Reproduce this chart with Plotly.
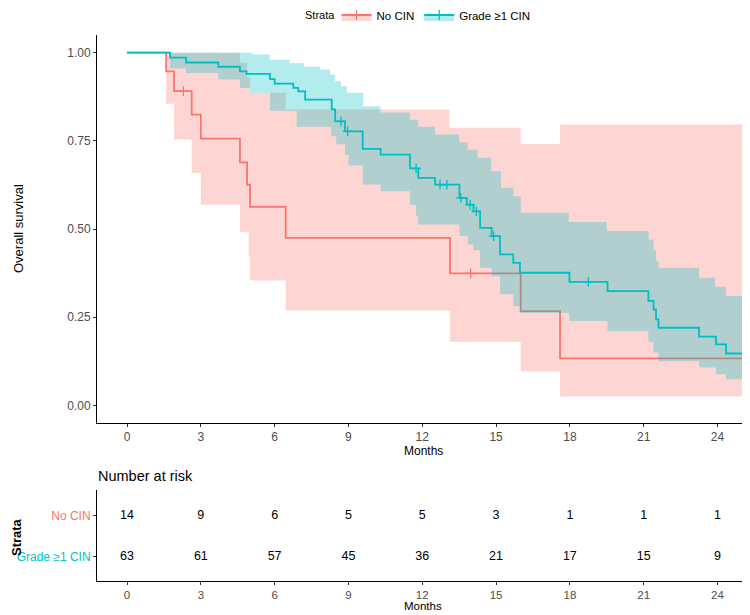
import plotly.graph_objects as go

RED = "#F8766D"
CYAN = "#00BFC4"
RED_FILL = "rgba(248,118,109,0.3)"
CYAN_FILL = "rgba(0,191,196,0.3)"
FONT = "Liberation Sans, Arial, sans-serif"

W, H = 750, 615
PAGE_OFFSET = 8  # default body margin of the html page

# ---- No CIN ----
nocin_time = [0, 1.59, 1.91, 2.63, 3.0, 4.59, 4.88, 5.0, 6.45, 13.13, 16.0, 17.6, 25.4]
nocin_surv = [1.0, 0.947, 0.891, 0.824, 0.756, 0.689, 0.626, 0.563, 0.475, 0.374, 0.267, 0.133, 0.133]
nocin_cens_time = [2.29, 13.97]
nocin_cens_surv = [0.891, 0.374]
nocin_up_time = [1.59, 4.59, 4.88, 5.0, 6.45, 13.1, 16.0, 17.6, 25.4]
nocin_upper = [1.0, 0.971, 0.93, 0.886, 0.839, 0.787, 0.741, 0.796, 0.796]
nocin_lo_time = [1.59, 1.91, 2.63, 3.0, 4.59, 4.95, 5.0, 6.45, 13.13, 16.0, 17.6, 25.4]
nocin_lower = [0.855, 0.754, 0.659, 0.569, 0.491, 0.421, 0.354, 0.269, 0.18, 0.097, 0.025, 0.025]

# ---- Grade >=1 CIN ----
grade_time = [0, 1.75, 2.4, 3.71, 4.59, 4.86, 5.81, 6.0, 6.76, 6.96, 7.24, 8.32, 8.46, 8.86,
              9.58, 10.31, 11.5, 11.84, 12.52, 13.51, 13.81, 14.08, 14.35, 14.82, 15.16, 15.7,
              15.97, 17.98, 19.53, 21.19, 21.4, 21.5, 21.6, 23.25, 23.94, 24.35, 25.4]
grade_surv = [1.0, 0.986, 0.972, 0.96, 0.947, 0.94, 0.925, 0.912, 0.90, 0.89, 0.867, 0.839, 0.805,
              0.777, 0.727, 0.711, 0.672, 0.645, 0.626, 0.588, 0.569, 0.55, 0.503, 0.48, 0.428,
              0.404, 0.376, 0.35, 0.324, 0.296, 0.272, 0.244, 0.22, 0.195, 0.173, 0.147, 0.147]
grade_cens_time = [8.7, 8.97, 11.75, 12.72, 13.0, 13.57, 13.95, 14.2, 14.9, 18.75]
grade_cens_surv = [0.805, 0.777, 0.672, 0.626, 0.626, 0.588, 0.569, 0.55, 0.48, 0.35]
grade_up_time = [1.75, 5.1, 5.8, 6.6, 7.2, 7.85, 8.25, 8.46, 8.69, 8.93, 9.6, 10.3, 11.5, 11.84,
                 12.52, 13.5, 13.85, 14.25, 14.8, 15.2, 15.7, 16.0, 17.95, 19.5, 21.2, 21.4, 21.5,
                 21.6, 23.25, 23.9, 24.35, 25.4]
grade_upper = [1.0, 0.995, 0.98, 0.97, 0.96, 0.952, 0.938, 0.919, 0.905, 0.886, 0.848, 0.83, 0.81,
               0.79, 0.768, 0.745, 0.725, 0.702, 0.664, 0.617, 0.593, 0.546, 0.52, 0.494, 0.47,
               0.44, 0.41, 0.39, 0.362, 0.336, 0.31, 0.31]
grade_lo_time = [1.75, 2.4, 3.71, 4.59, 5.0, 5.81, 6.9, 8.3, 8.5, 8.86, 9.0, 9.58, 10.31, 11.5,
                 11.75, 11.84, 13.51, 13.85, 14.08, 14.35, 14.82, 15.16, 15.7, 15.97, 17.98, 19.53,
                 21.19, 21.4, 21.6, 23.25, 23.94, 24.35, 25.4]
grade_lower = [0.955, 0.942, 0.924, 0.90, 0.886, 0.835, 0.79, 0.763, 0.74, 0.71, 0.68, 0.626,
               0.607, 0.569, 0.536, 0.513, 0.48, 0.456, 0.44, 0.39, 0.366, 0.315, 0.281, 0.262,
               0.239, 0.21, 0.18, 0.15, 0.125, 0.107, 0.088, 0.074, 0.074]

# ---- risk table ----
risk_time = [0, 3, 6, 9, 12, 15, 18, 21, 24]
risk_nocin = [14, 9, 6, 5, 5, 3, 1, 1, 1]
risk_grade = [63, 61, 57, 45, 36, 21, 17, 15, 9]
strata = ["No CIN", "Grade ≥1 CIN"]


def px_x(p):
    return (p - PAGE_OFFSET) / W


def px_y(p):
    return 1 - (p - PAGE_OFFSET) / H


fig = go.Figure()


def add_group(name, color, fill, t, s, ut, u, lt, lo, ct, cs):
    fig.add_trace(go.Scatter(x=ut, y=u, mode="lines", line=dict(width=0, shape="hv"),
                             hoverinfo="skip", showlegend=False))
    fig.add_trace(go.Scatter(x=lt, y=lo, mode="lines", line=dict(width=0, shape="hv"),
                             fill="tonexty", fillcolor=fill, hoverinfo="skip", showlegend=False))
    fig.add_trace(go.Scatter(x=t, y=s, mode="lines", line=dict(color=color, width=1.8, shape="hv"),
                             name=name, showlegend=False))
    fig.add_trace(go.Scatter(x=ct, y=cs, mode="markers",
                             marker=dict(symbol="cross-thin", size=7, line=dict(color=color, width=1.3)),
                             showlegend=False, hoverinfo="skip"))
    # legend key
    fig.add_trace(go.Scatter(x=[None], y=[None], mode="lines+markers", name=name,
                             line=dict(color=color, width=1.8), fill="toself", fillcolor=fill,
                             marker=dict(symbol="cross-thin", size=7, line=dict(color=color, width=1.3))))


add_group("No CIN", RED, RED_FILL, nocin_time, nocin_surv, nocin_up_time, nocin_upper,
          nocin_lo_time, nocin_lower, nocin_cens_time, nocin_cens_surv)
add_group("Grade ≥1 CIN", CYAN, CYAN_FILL, grade_time, grade_surv, grade_up_time, grade_upper,
          grade_lo_time, grade_lower, grade_cens_time, grade_cens_surv)

# risk table numbers
fig.add_trace(go.Scatter(x=risk_time, y=[1] * len(risk_time), mode="text",
                         text=[str(v) for v in risk_nocin], textfont=dict(size=12.5, color="black", family=FONT),
                         xaxis="x2", yaxis="y2", showlegend=False, hoverinfo="skip"))
fig.add_trace(go.Scatter(x=risk_time, y=[0] * len(risk_time), mode="text",
                         text=[str(v) for v in risk_grade], textfont=dict(size=12.5, color="black", family=FONT),
                         xaxis="x2", yaxis="y2", showlegend=False, hoverinfo="skip"))

xdom = [px_x(97), min(1.0, px_x(749))]
xrange_ = [-1.22, 25.28]
axis_common = dict(showline=True, linecolor="black", linewidth=1, ticks="outside", ticklen=3,
                   tickcolor="#333333", showgrid=False, zeroline=False, automargin=False,
                   tickfont=dict(size=12, color="#4D4D4D", family=FONT))

fig.update_layout(
    width=W, height=H,
    margin=dict(l=0, r=0, t=0, b=0, autoexpand=False),
    paper_bgcolor="white", plot_bgcolor="white",
    font=dict(family=FONT, color="black"),
    xaxis=dict(domain=xdom, range=xrange_, tickvals=risk_time, anchor="y", **axis_common),
    yaxis=dict(domain=[px_y(423), px_y(35)], range=[-0.05, 1.05], tickvals=[0, 0.25, 0.5, 0.75, 1.0],
               tickformat=".2f", anchor="x", **axis_common),
    xaxis2=dict(domain=xdom, range=xrange_, tickvals=risk_time, anchor="y2",
                **{**axis_common, "tickfont": dict(size=11.5, color="#4D4D4D", family=FONT)}),
    yaxis2=dict(domain=[px_y(581), px_y(490)], range=[-0.59, 1.63], tickvals=[1, 0],
                ticktext=[f"<span style='color:{RED}'>{strata[0]}</span>",
                          f"<span style='color:{CYAN}'>{strata[1]}</span>"],
                anchor="x2", **axis_common),
    legend=dict(orientation="h", x=px_x(436), xanchor="center", y=px_y(15), yanchor="middle",
                traceorder="normal",
                font=dict(size=11.5, family=FONT), bgcolor="rgba(0,0,0,0)",
                tracegroupgap=0),
    showlegend=True,
    annotations=[
        dict(text="Strata", x=px_x(320), y=px_y(15), xref="paper", yref="paper",
             showarrow=False, font=dict(size=11), xanchor="center", yanchor="middle"),
        dict(text="Months", x=px_x(423), y=px_y(451), xref="paper", yref="paper",
             showarrow=False, font=dict(size=12), xanchor="center", yanchor="middle"),
        dict(text="Overall survival", x=px_x(18), y=px_y(229), xref="paper", yref="paper",
             showarrow=False, font=dict(size=13), textangle=-90, xanchor="center", yanchor="middle"),
        dict(text="Number at risk", x=px_x(96), y=px_y(476), xref="paper", yref="paper",
             showarrow=False, font=dict(size=14.5), xanchor="left", yanchor="middle"),
        dict(text="<b>Strata</b>", x=px_x(16), y=px_y(537), xref="paper", yref="paper",
             showarrow=False, font=dict(size=13), textangle=-90, xanchor="center", yanchor="middle"),
        dict(text="Months", x=px_x(423), y=px_y(606), xref="paper", yref="paper",
             showarrow=False, font=dict(size=11.5), xanchor="center", yanchor="middle"),
    ],
)

fig.write_html("out.html")
